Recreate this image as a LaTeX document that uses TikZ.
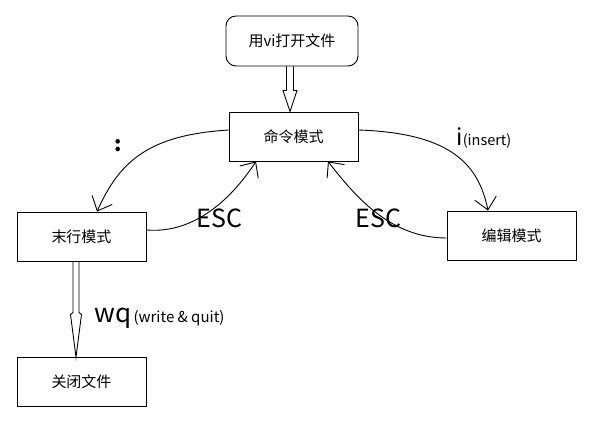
\documentclass[tikz,border=0pt]{standalone}
\usepackage{fontspec}
\setmainfont{Noto Sans CJK SC}
\usetikzlibrary{arrows.meta,calc}

\begin{document}
\begin{tikzpicture}[
  x=1pt, y=-1pt,
  line width=0.9pt,
  box/.style={draw, minimum width=129pt, minimum height=49pt,
              inner sep=0pt, font=\fontsize{15}{18}\selectfont},
  flow/.style={-{Straight Barb[length=12pt, width=22pt]}},
  hollow/.style={draw, line join=miter},
  lbl/.style={anchor=base west, inner sep=0pt}
]
\useasboundingbox (0,0) rectangle (590,423);

% Nodo principale
\node[box, rounded corners=10pt, minimum width=132pt, minimum height=50pt]
  (open) at (292,41) {用vi打开文件};
\node[box] (cmd)   at (293.5,136.5) {命令模式};
% ====================== MODI ======================
\node[box] (last)  at (81.5,236.5)  {末行模式};
\node[box] (edit)  at (511.5,235.5) {编辑模式};
\node[box] (close) at (81.5,382)    {关闭文件};

% ====================== FRECCE VUOTE ======================
\draw[hollow] ($(open.south)+(-5.5,0)$) -- ($(open.south)+(-5.5,24)$)
  -- ($(open.south)+(-9,24)$) -- ([xshift=-3.5pt]cmd.north)
  -- ($(open.south)+(5,24)$) -- ($(open.south)+(1.5,24)$)
  -- ($(open.south)+(1.5,0)$);
\draw[hollow] ($(last.south)+(-8.5,0)$) -- ($(last.south)+(-8.5,51)$)
  -- ($(last.south)+(-11,53)$) -- ([xshift=-5.5pt]close.north)
  -- ($(last.south)+(0,53)$) -- ($(last.south)+(-2.5,51)$)
  -- ($(last.south)+(-2.5,0)$);

% ====================== TRANSIZIONI ======================
\draw[flow] ([yshift=6.5pt]cmd.west)
  .. controls (150,135) and (120,160) .. ([xshift=15.5pt]last.north);
\draw[flow] ([yshift=6.5pt]last.east)
  .. controls (195,234) and (232,198) .. ([xshift=-37.5pt]cmd.south);
\draw[flow] ([yshift=6.5pt]cmd.east)
  .. controls (445,133) and (478,160) .. ([xshift=-23.5pt]edit.north);
\draw[flow] ([yshift=-2.5pt]edit.west)
  .. controls (390,238) and (355,196) .. ([xshift=34.5pt]cmd.south);

% Etichette
\node[font=\bfseries\fontsize{21}{24}\selectfont] (colon) at (118,146) {:};
\node[lbl] (ins) at (456,145)
  {{\fontsize{23}{24}\selectfont i}{\fontsize{14.5}{16}\selectfont (insert)}};
\node[lbl, font=\fontsize{25}{28}\selectfont] (esc1) at (196,227) {ESC};
\node[lbl, font=\fontsize{25}{28}\selectfont] (esc2) at (355,227) {ESC};
\node[lbl] (wq) at (94,322)
  {{\fontsize{26}{28}\selectfont wq} {\fontsize{15}{17}\selectfont (write \& quit)}};

\end{tikzpicture}
\end{document}
